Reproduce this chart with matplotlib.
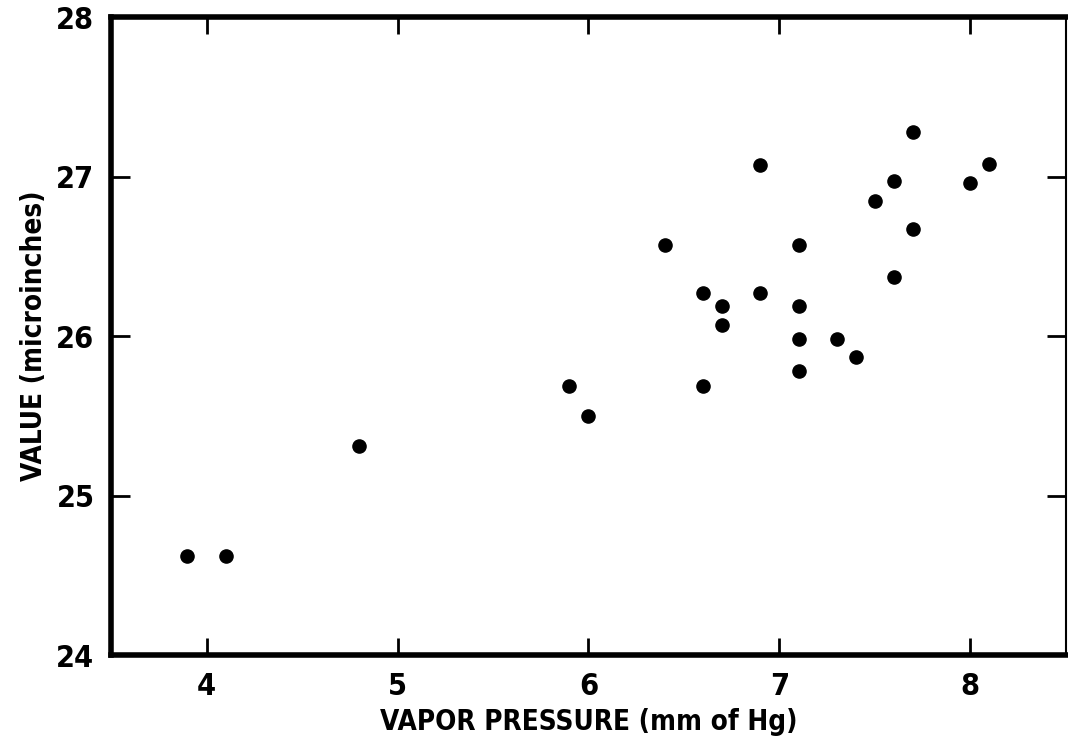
import numpy as np
import matplotlib
matplotlib.use('Agg')
import matplotlib.pyplot as plt

# vapor pressure (mm of Hg) vs value (microinches)
vapor_pressure = [3.9, 4.1, 4.8, 5.9, 6.0, 6.4, 6.6, 6.6, 6.7, 6.7, 6.9, 6.9,
                  7.1, 7.1, 7.1, 7.1, 7.3, 7.4, 7.5, 7.6, 7.6, 7.7, 7.7, 8.0, 8.1]
value = [24.62, 24.62, 25.31, 25.69, 25.50, 26.57, 26.27, 25.69, 26.19, 26.07, 26.27, 27.07,
         26.57, 26.19, 25.98, 25.78, 25.98, 25.87, 26.85, 26.97, 26.37, 27.28, 26.67, 26.96, 27.08]

x_ticks = [4, 5, 6, 7, 8]
y_ticks = [24, 25, 26, 27, 28]

plt.rcParams['font.family'] = ['DejaVu Sans']
plt.rcParams['font.stretch'] = 'condensed'
plt.rcParams['font.weight'] = 'bold'
plt.rcParams['axes.labelweight'] = 'bold'

fig = plt.figure(figsize=(10.68, 7.42), dpi=100)
ax = fig.add_axes([0.104, 0.117, 0.894, 0.860])

ax.scatter(vapor_pressure, value, s=90, color='black', zorder=3, clip_on=False)

ax.set_xlim(3.5, 8.5)
ax.set_ylim(24, 28)
ax.set_xticks(x_ticks)
ax.set_yticks(y_ticks)
ax.set_xticklabels([str(t) for t in x_ticks])
ax.set_yticklabels([str(t) for t in y_ticks])

for side in ['left', 'top', 'bottom']:
    ax.spines[side].set_linewidth(4.0)
ax.spines['right'].set_linewidth(1.5)

ax.tick_params(axis='both', direction='in', width=2, labelsize=22, colors='black')
ax.tick_params(axis='x', length=12, pad=12, top=True)
ax.tick_params(axis='y', length=14, pad=12, right=True)

ax.set_xlabel('VAPOR PRESSURE (mm of Hg)', fontsize=20, labelpad=5)
ax.set_ylabel('VALUE (microinches)', fontsize=20, labelpad=6)

fig.savefig('out.png', dpi=100)
